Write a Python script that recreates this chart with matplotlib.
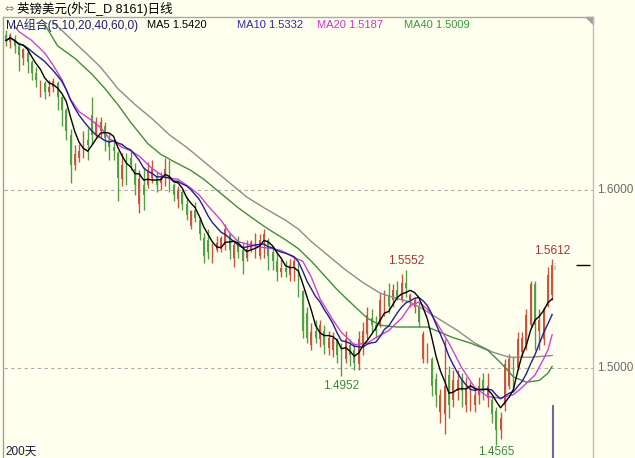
import numpy as np
import pandas as pd
import matplotlib
matplotlib.use("Agg")
import matplotlib.pyplot as plt
from matplotlib.lines import Line2D
from matplotlib.patches import Polygon

plt.rcParams['font.family'] = ['Liberation Sans', 'Noto Sans CJK SC', 'DejaVu Sans']

# GBP/USD daily bars, oldest first
opens = [1.687, 1.683, 1.685, 1.681, 1.674, 1.677, 1.672, 1.666, 1.657, 1.660,
         1.655, 1.658, 1.660, 1.652, 1.645, 1.631, 1.614, 1.618, 1.622, 1.628,
         1.642, 1.631, 1.633, 1.636, 1.628, 1.624, 1.621, 1.606, 1.611, 1.618,
         1.612, 1.592, 1.603, 1.603, 1.607, 1.608, 1.604, 1.608, 1.614, 1.603,
         1.595, 1.599, 1.592, 1.580, 1.589, 1.583, 1.573, 1.572, 1.562, 1.566,
         1.567, 1.569, 1.575, 1.562, 1.571, 1.566, 1.562, 1.566, 1.566, 1.563,
         1.572, 1.572, 1.565, 1.560, 1.554, 1.556, 1.552, 1.556, 1.558, 1.543,
         1.531, 1.513, 1.521, 1.516, 1.521, 1.511, 1.510, 1.516, 1.509, 1.505,
         1.513, 1.510, 1.502, 1.513, 1.519, 1.528, 1.524, 1.524, 1.535, 1.541,
         1.538, 1.544, 1.539, 1.548, 1.538, 1.534, 1.535, 1.505, 1.507, 1.505,
         1.494, 1.475, 1.474, 1.496, 1.482, 1.487, 1.493, 1.479, 1.482, 1.479,
         1.485, 1.493, 1.483, 1.482, 1.476, 1.465, 1.479, 1.490, 1.502, 1.500,
         1.509, 1.513, 1.524, 1.547, 1.521, 1.516, 1.535, 1.541]
closes = [1.684, 1.687, 1.681, 1.676, 1.679, 1.672, 1.666, 1.662, 1.660, 1.655,
          1.658, 1.661, 1.652, 1.645, 1.633, 1.614, 1.620, 1.622, 1.628, 1.625,
          1.631, 1.638, 1.638, 1.629, 1.624, 1.622, 1.607, 1.614, 1.608, 1.614,
          1.603, 1.606, 1.597, 1.610, 1.612, 1.603, 1.607, 1.612, 1.604, 1.597,
          1.600, 1.592, 1.586, 1.588, 1.584, 1.575, 1.563, 1.565, 1.567, 1.570,
          1.573, 1.578, 1.566, 1.569, 1.565, 1.560, 1.567, 1.571, 1.573, 1.572,
          1.575, 1.563, 1.560, 1.554, 1.556, 1.554, 1.558, 1.560, 1.544, 1.521,
          1.517, 1.520, 1.517, 1.524, 1.513, 1.517, 1.517, 1.507, 1.500, 1.516,
          1.507, 1.503, 1.516, 1.521, 1.530, 1.524, 1.521, 1.538, 1.541, 1.535,
          1.544, 1.540, 1.548, 1.545, 1.541, 1.538, 1.526, 1.519, 1.513, 1.490,
          1.485, 1.485, 1.490, 1.479, 1.493, 1.493, 1.487, 1.489, 1.488, 1.485,
          1.490, 1.487, 1.490, 1.474, 1.465, 1.472, 1.502, 1.505, 1.496, 1.516,
          1.517, 1.530, 1.547, 1.524, 1.527, 1.533, 1.552, 1.558]
highs = [1.690, 1.688, 1.687, 1.683, 1.680, 1.679, 1.673, 1.669, 1.662, 1.661,
         1.662, 1.663, 1.661, 1.653, 1.646, 1.634, 1.625, 1.626, 1.633, 1.635,
         1.652, 1.641, 1.641, 1.638, 1.632, 1.628, 1.622, 1.621, 1.621, 1.622,
         1.615, 1.611, 1.613, 1.616, 1.617, 1.610, 1.610, 1.618, 1.617, 1.604,
         1.602, 1.600, 1.596, 1.589, 1.593, 1.585, 1.576, 1.578, 1.570, 1.574,
         1.574, 1.581, 1.576, 1.572, 1.574, 1.570, 1.572, 1.572, 1.576, 1.575,
         1.578, 1.573, 1.568, 1.565, 1.561, 1.560, 1.561, 1.562, 1.559, 1.544,
         1.534, 1.525, 1.527, 1.527, 1.524, 1.521, 1.520, 1.517, 1.514, 1.521,
         1.516, 1.514, 1.521, 1.526, 1.534, 1.533, 1.529, 1.542, 1.544, 1.548,
         1.547, 1.549, 1.553, 1.5552, 1.542, 1.540, 1.537, 1.521, 1.514, 1.506,
         1.497, 1.488, 1.516, 1.501, 1.499, 1.499, 1.497, 1.495, 1.492, 1.488,
         1.495, 1.497, 1.497, 1.484, 1.478, 1.475, 1.505, 1.508, 1.506, 1.520,
         1.520, 1.533, 1.549, 1.549, 1.533, 1.534, 1.557, 1.5612]
lows = [1.681, 1.680, 1.677, 1.667, 1.670, 1.666, 1.662, 1.658, 1.652, 1.651,
        1.653, 1.655, 1.645, 1.636, 1.628, 1.604, 1.611, 1.616, 1.618, 1.617,
        1.626, 1.630, 1.630, 1.622, 1.617, 1.617, 1.594, 1.602, 1.603, 1.611,
        1.597, 1.587, 1.589, 1.601, 1.604, 1.599, 1.600, 1.602, 1.599, 1.594,
        1.590, 1.589, 1.583, 1.578, 1.582, 1.572, 1.559, 1.561, 1.559, 1.565,
        1.565, 1.566, 1.561, 1.557, 1.562, 1.553, 1.560, 1.565, 1.562, 1.561,
        1.562, 1.555, 1.555, 1.549, 1.551, 1.551, 1.549, 1.549, 1.540, 1.517,
        1.514, 1.510, 1.514, 1.512, 1.508, 1.507, 1.506, 1.503, 1.4952, 1.503,
        1.501, 1.499, 1.499, 1.507, 1.516, 1.520, 1.517, 1.523, 1.529, 1.531,
        1.534, 1.538, 1.537, 1.540, 1.534, 1.531, 1.523, 1.503, 1.503, 1.484,
        1.478, 1.469, 1.463, 1.472, 1.478, 1.482, 1.478, 1.475, 1.476, 1.475,
        1.480, 1.482, 1.478, 1.469, 1.4565, 1.460, 1.476, 1.488, 1.488, 1.499,
        1.506, 1.510, 1.523, 1.510, 1.510, 1.513, 1.534, 1.538]

# longer moving averages (bar index, value)
ma20_idx = [2, 3, 6, 9, 11, 13, 15, 17, 20, 22, 24, 27, 29, 31, 34, 37, 40, 43, 45, 47,
            50, 52, 54, 57, 59, 62, 64, 67, 69, 71, 73, 76, 78, 81, 84, 86, 89, 92, 94, 96,
            98, 100, 103, 106, 109, 112, 115, 118, 120, 123, 125, 126, 127]
ma20_val = [1.692, 1.689, 1.684, 1.677, 1.670, 1.662, 1.651, 1.644, 1.639, 1.635,
            1.629, 1.624, 1.622, 1.619, 1.612, 1.607, 1.606, 1.601, 1.597, 1.591,
            1.583, 1.576, 1.571, 1.569, 1.568, 1.567, 1.566, 1.562, 1.560, 1.551,
            1.539, 1.527, 1.520, 1.513, 1.514, 1.517, 1.521, 1.528, 1.535, 1.537,
            1.533, 1.526, 1.514, 1.500, 1.489, 1.484, 1.483, 1.485, 1.489, 1.496,
            1.505, 1.510, 1.5187]
ma40_idx = [9, 12, 16, 20, 23, 26, 29, 33, 36, 39, 43, 46, 50, 54, 58, 61, 65, 68, 71, 74,
            77, 80, 84, 87, 91, 94, 98, 101, 104, 108, 112, 115, 118, 121, 124, 126, 127]
ma40_val = [1.693, 1.681, 1.674, 1.665, 1.657, 1.648, 1.638, 1.626, 1.620, 1.616,
            1.611, 1.606, 1.598, 1.590, 1.583, 1.578, 1.572, 1.567, 1.560, 1.552,
            1.544, 1.537, 1.528, 1.524, 1.523, 1.523, 1.523, 1.520, 1.517, 1.514,
            1.510, 1.503, 1.495, 1.492, 1.493, 1.497, 1.5009]
ma60_idx = [11, 12, 15, 19, 22, 26, 30, 34, 38, 42, 45, 48, 52, 56, 60, 65, 68, 71, 75, 79,
            83, 87, 91, 94, 97, 101, 105, 109, 113, 117, 122, 127]
ma60_val = [1.694, 1.692, 1.685, 1.676, 1.669, 1.657, 1.648, 1.640, 1.631, 1.624,
            1.618, 1.612, 1.604, 1.596, 1.590, 1.583, 1.578, 1.571, 1.563, 1.555,
            1.548, 1.542, 1.539, 1.537, 1.533, 1.527, 1.521, 1.514, 1.509, 1.506,
            1.506, 1.507]

title_txt = '英镑美元(外汇_D 8161)日线'
ma_hdr = 'MA组合(5,10,20,40,60,0)'
ma_names = ['MA5', 'MA10', 'MA20', 'MA40']
ma_last = ['1.5420', '1.5332', '1.5187', '1.5009']
grid_levels = [1.6, 1.5]
peaks_hi = [93, 127]
peaks_lo = [78, 114]

BG = '#FFFFEE'
RED = '#C8553F'
GREEN = '#52A044'
C_MA5, C_MA10, C_MA20, C_MA40, C_MA60 = '#000000', '#1E1E96', '#D040D0', '#3E8E3E', '#8C8C8C'

W, H = 635, 458
fig = plt.figure(figsize=(W / 100, H / 100), dpi=100)
fig.patch.set_facecolor(BG)
ax = fig.add_axes([4 / W, 0, 589 / W, 441 / H])
ax.set_facecolor(BG)
ax.set_xlim(-0.465, 136.5)
ax.set_ylim(1.4494, 1.6972)
ax.axis('off')

for lv in grid_levels:
    ax.axhline(lv, color='#A8A8A8', lw=0.8, ls=(0, (3, 3)), zorder=1)
    ax.text(1.007, lv, f'{lv:.4f}', transform=ax.get_yaxis_transform(),
            ha='left', va='center', fontsize=8.5, color='#6A6A6A', clip_on=False)

x = np.arange(len(closes))
o = np.array(opens)
c = np.array(closes)
hi = np.array(highs)
lo = np.array(lows)
col = np.where(c >= o, RED, GREEN)
ax.vlines(x, lo, hi, colors=col, lw=1.0, zorder=2)
ax.bar(x, np.abs(c - o), bottom=np.minimum(o, c), width=0.4, color=col, lw=0, zorder=2)

s = pd.Series(closes)
ma5 = s.rolling(5, min_periods=1).mean()
ma10 = s.rolling(10, min_periods=1).mean()
ax.plot(ma60_idx, ma60_val, color=C_MA60, lw=1.0, zorder=3)
ax.plot(ma40_idx, ma40_val, color=C_MA40, lw=1.0, zorder=3)
ax.plot(ma20_idx, ma20_val, color=C_MA20, lw=1.0, zorder=3)
ax.plot(x, ma10, color=C_MA10, lw=1.0, zorder=4)
ax.plot(x, ma5, color=C_MA5, lw=1.0, zorder=5)

for i in peaks_hi:
    ax.annotate(f'{highs[i]:.4f}', (i, highs[i]), xytext=(0, 6), textcoords='offset points',
                ha='center', va='center', fontsize=8.5, color='#B03030')
for i, dy in zip(peaks_lo, [-6.5, -5.0]):
    ax.annotate(f'{lows[i]:.4f}', (i, lows[i]), xytext=(0, dy), textcoords='offset points',
                ha='center', va='center', fontsize=8.5, color='#3A8A3A', annotation_clip=False)

# last price tick on the right edge, cursor line and info mark
ax.hlines(closes[-1], 132.6, 135.9, color='black', lw=1.0)
ax.vlines(x[-1] + 0.2, 1.4494, 1.479, color='#6B6B9B', lw=1.5)
ax.annotate('i', (x[-1], highs[-1]), xytext=(2, -6), textcoords='offset points',
            ha='center', va='center', fontsize=6.5, color='#909090')

# frame
fig.add_artist(Line2D([3 / W, 3 / W], [0, 1 - 17 / H], color='#A0A0A0', lw=1))
fig.add_artist(Line2D([3 / W, 593 / W], [1 - 17 / H, 1 - 17 / H], color='#A8A8A8', lw=1))
fig.add_artist(Line2D([593 / W, 593 / W], [0, 1 - 17 / H], color='#BDBDBD', lw=1))
fig.add_artist(Polygon([(586 / W, 1 - 17 / H), (593 / W, 1 - 17 / H), (593 / W, 1 - 24 / H)],
                       closed=True, transform=fig.transFigure, color='#A0A0A0'))

def px(xp, yp):
    return xp / W, 1 - yp / H

fig.text(*px(4, 9), '⇔', fontsize=8, color='#808080', va='center', ha='left',
         family=['DejaVu Sans'])
fig.text(*px(17, 9), title_txt, fontsize=9, color='black', va='center', ha='left')
fig.text(*px(6, 25), ma_hdr, fontsize=8.6, color='#1C1C70', va='center', ha='left')
hdr_x = [147, 237, 317, 404]
hdr_c = [C_MA5, '#2A2AA0', '#CC33CC', '#339933']
for xp, nm, v, cc in zip(hdr_x, ma_names, ma_last, hdr_c):
    fig.text(*px(xp, 25), f'{nm} {v}', fontsize=8, color=cc, va='center', ha='left')
fig.text(*px(5, 452), '200天', fontsize=8.5, color='#1C1C40', va='center', ha='left')

fig.savefig('out.png', dpi=100, facecolor=BG)
